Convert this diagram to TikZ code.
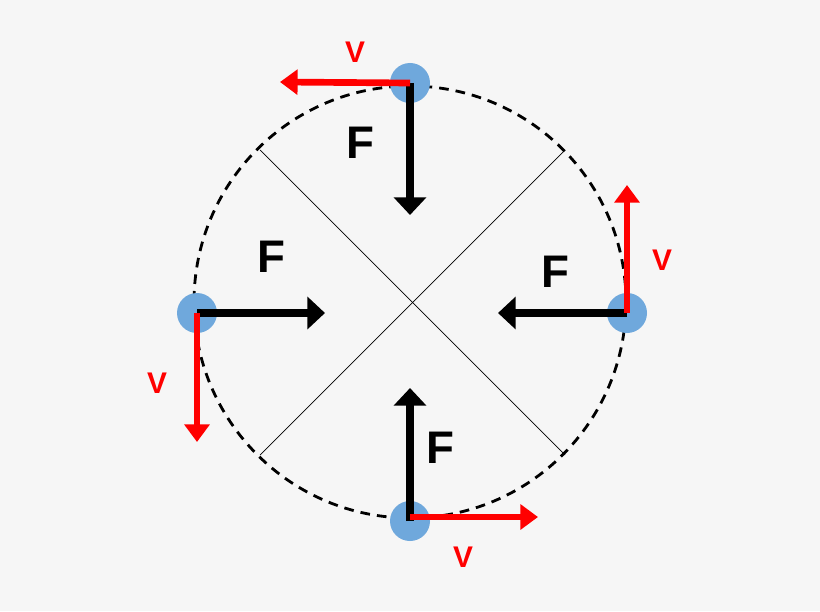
\documentclass[tikz,border=0pt]{standalone}
\usepackage{fontspec}
\setmainfont{Liberation Sans}
\usetikzlibrary{arrows.meta}
\definecolor{bg}{HTML}{F6F6F6}
\definecolor{dotc}{HTML}{6FA8DC}
\tikzset{
 fblk/.style={line width=4pt,-{Triangle[width=18pt,length=10pt]}},
 vred/.style={line width=3.8pt,red,-{Triangle[width=14pt,length=10pt]}},
 vlab/.style={text=red,font=\bfseries\fontsize{17}{19}\selectfont},
 flab/.style={font=\bfseries\fontsize{26}{28}\selectfont},
 dot/.style={circle,fill=dotc,minimum size=40*0.02cm,inner sep=0pt}
}
\begin{document}
\begin{tikzpicture}[x=0.02cm,y=-0.02cm]
\fill[bg] (0,0) rectangle (820,611);
\useasboundingbox (0,0) rectangle (820,611);
\coordinate (c) at (410,302);
\draw[line width=1.6pt,dash pattern=on 5.5pt off 4pt] (c) circle[radius=216*0.02cm];
\draw[thin] (260,150) -- (565,455);
\draw[thin] (565,150) -- (260,455);
\node[dot] (t) at (410,83) {};
\node[dot] (r) at (627,313) {};
\node[dot] (l) at (197,313) {};
\node[dot] (b) at (410,521) {};
\coordinate (tf) at (410,215); \coordinate (tv) at (280,82);
\coordinate (rf) at (498,313); \coordinate (rv) at (627,185);
\coordinate (lf) at (325,313); \coordinate (lv) at (197,442);
\coordinate (bf) at (410,388); \coordinate (bv) at (538,517);
\draw[fblk] (t.center) -- (tf);
\draw[fblk] (r.center) -- (rf);
\draw[fblk] (l.center) -- (lf);
\draw[fblk] (b.center) -- (bf);
\draw[vred] (t.center) -- (tv);
\draw[vred] (r.center) -- (rv);
\draw[vred] (l.center) -- (lv);
\draw[vred] (410,517) -- (bv);
\node[vlab] (v1) at (355,52) {V};
\node[vlab] (v2) at (662,260) {V};
\node[vlab] (v3) at (157,383) {V};
\node[vlab] (v4) at (463,557) {V};
\node[flab] (f1) at (360,143) {F};
\node[flab] (f2) at (555,272) {F};
\node[flab] (f3) at (271,257) {F};
\node[flab] (f4) at (440,448) {F};
\end{tikzpicture}
\end{document}
